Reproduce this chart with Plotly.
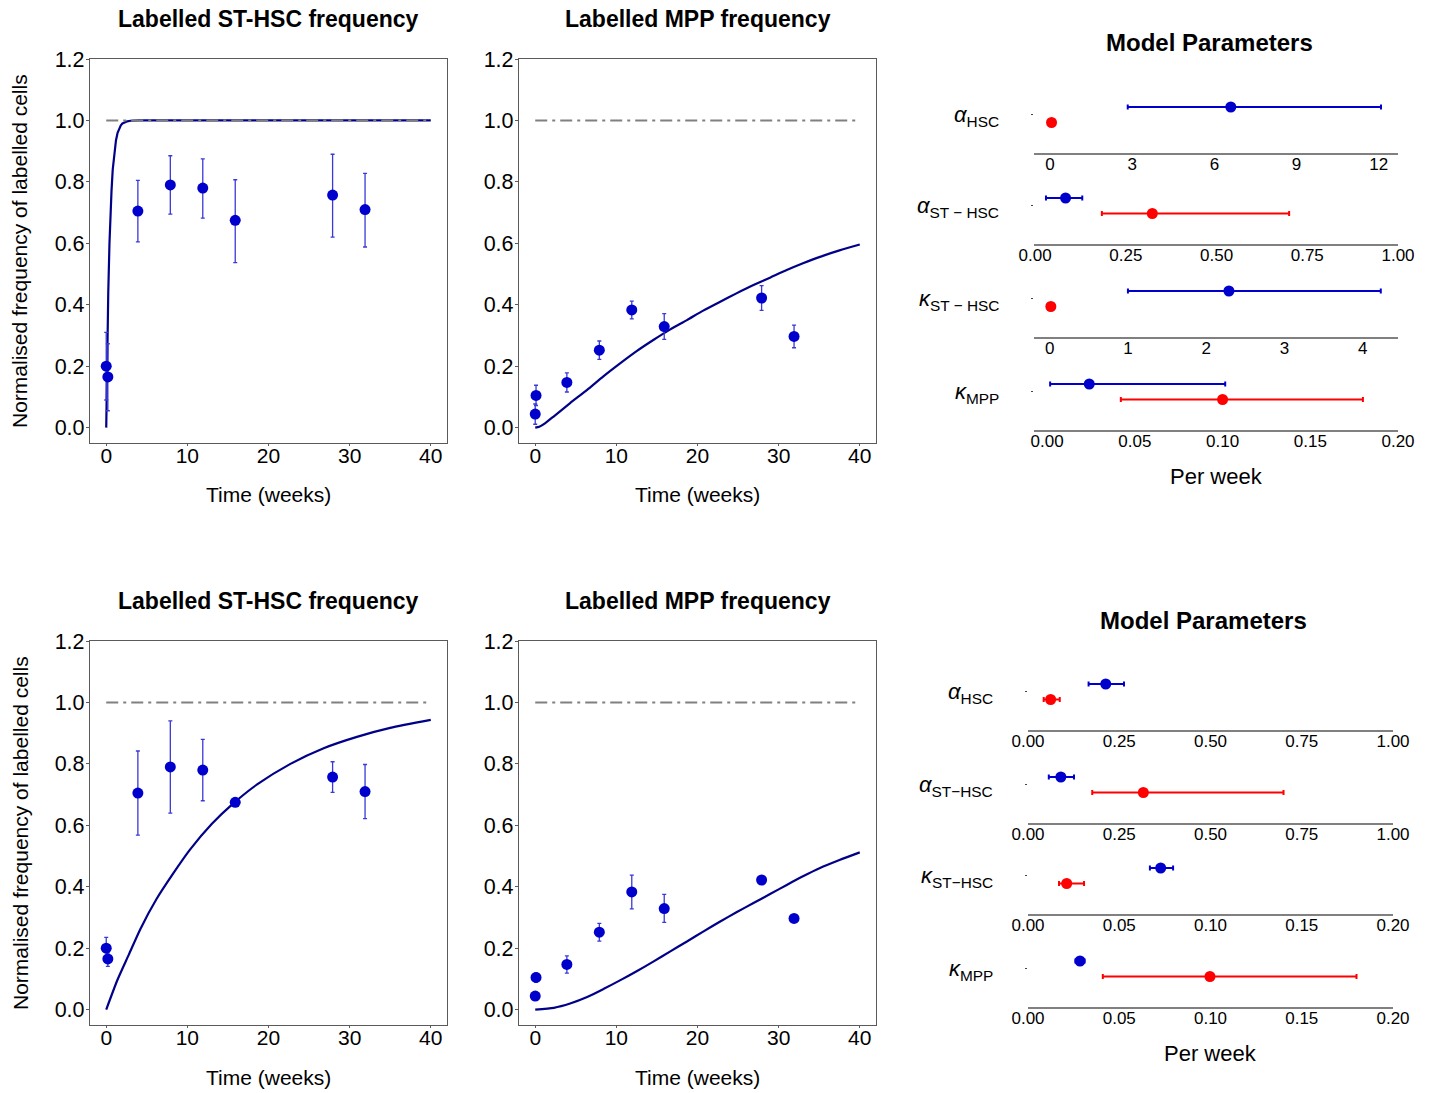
import plotly.graph_objects as go

W, H = 1432, 1093
FONT = "Liberation Sans, Arial, sans-serif"

# ---------------- data ----------------
ref_t = [0, 40]
ref_v = [1.0, 1.0]

st_t = [0, 0.2, 3.9, 7.9, 11.9, 15.9, 27.9, 31.9]
st_v = [0.2, 0.165, 0.705, 0.79, 0.78, 0.675, 0.757, 0.71]
st_err_top_plus = [0.11, 0.108, 0.10, 0.095, 0.095, 0.132, 0.133, 0.118]
st_err_top_minus = [0.11, 0.11, 0.10, 0.095, 0.098, 0.138, 0.137, 0.122]
st_err_bot_plus = [0.035, 0.02, 0.137, 0.15, 0.1, 0.0, 0.05, 0.088]
st_err_bot_minus = [0.03, 0.024, 0.137, 0.15, 0.1, 0.0, 0.05, 0.088]

mpp_t = [0.1, 0, 3.9, 7.9, 11.9, 15.9, 27.9, 31.9]
mpp_v = [0.105, 0.044, 0.147, 0.252, 0.383, 0.329, 0.422, 0.297]
mpp_err_top_plus = [0.033, 0.033, 0.031, 0.03, 0.029, 0.042, 0.04, 0.037]
mpp_err_top_minus = [0.033, 0.033, 0.031, 0.03, 0.029, 0.042, 0.04, 0.037]
mpp_err_bot_plus = [0.015, 0.0, 0.028, 0.029, 0.055, 0.046, 0.0, 0.0]
mpp_err_bot_minus = [0.015, 0.0, 0.028, 0.029, 0.055, 0.045, 0.0, 0.0]

# model curves
fit_st_top_t = [0, 0.1, 0.25, 0.4, 0.5, 0.65, 0.8, 1.0, 1.2, 1.4, 1.6, 1.8, 2.0, 2.3, 2.6, 3.0, 3.5, 4.0, 10, 20, 30, 40]
fit_st_top_v = [0, 0.2, 0.44, 0.6, 0.68, 0.77, 0.84, 0.9, 0.935, 0.96, 0.975, 0.984, 0.99, 0.994, 0.997, 0.999, 1.0, 1.0, 1.0, 1.0, 1.0, 1.0]
fit_mpp_top_t = [0, 0.5, 1.2, 2.3, 4.3, 6.4, 8.4, 10.5, 12.5, 14.6, 16.6, 18.7, 20.7, 22.8, 24.8, 26.9, 29.0, 31.0, 33.0, 35.1, 37.5, 40]
fit_mpp_top_v = [0, 0.003, 0.014, 0.037, 0.08, 0.123, 0.167, 0.21, 0.249, 0.286, 0.319, 0.35, 0.381, 0.41, 0.437, 0.464, 0.489, 0.513, 0.535, 0.556, 0.577, 0.596]
fit_st_bot_t = [0, 1.4, 2.8, 4.2, 6.2, 8.3, 10.3, 13.0, 15.7, 18.6, 22.7, 26.8, 30.9, 35, 40]
fit_st_bot_v = [0, 0.098, 0.18, 0.262, 0.36, 0.445, 0.52, 0.604, 0.672, 0.733, 0.8, 0.851, 0.888, 0.917, 0.943]
fit_mpp_bot_t = [0, 2.3, 4.3, 6.4, 8.4, 10.5, 12.5, 14.6, 16.6, 18.7, 20.7, 22.8, 24.8, 26.9, 29.0, 31.0, 33.0, 35.1, 37.5, 40]
fit_mpp_bot_v = [0, 0.006, 0.02, 0.041, 0.067, 0.096, 0.125, 0.157, 0.189, 0.222, 0.254, 0.287, 0.317, 0.347, 0.377, 0.406, 0.434, 0.461, 0.487, 0.512]

# model parameters
param_labels_top = ["<i>α</i><sub>HSC</sub>", "<i>α</i><sub>ST − HSC</sub>",
                    "<i>κ</i><sub>ST − HSC</sub>", "<i>κ</i><sub>MPP</sub>"]
param_labels_bot = ["<i>α</i><sub>HSC</sub>", "<i>α</i><sub>ST−HSC</sub>",
                    "<i>κ</i><sub>ST−HSC</sub>", "<i>κ</i><sub>MPP</sub>"]

top_blue = [6.6, 0.084, 2.29, 0.024]
top_blue_lo = [2.84, 0.03, 1.0, 0.0017]
top_blue_hi = [12.08, 0.13, 4.23, 0.1015]
top_red = [0.06, 0.323, 0.015, 0.1]
top_red_lo = [0.06, 0.184, 0.015, 0.042]
top_red_hi = [0.06, 0.70, 0.015, 0.18]

bot_blue = [0.213, 0.09, 0.0727, 0.0285]
bot_blue_lo = [0.166, 0.057, 0.0668, 0.026]
bot_blue_hi = [0.263, 0.126, 0.0795, 0.031]
bot_red = [0.062, 0.316, 0.0212, 0.0997]
bot_red_lo = [0.043, 0.176, 0.017, 0.041]
bot_red_hi = [0.087, 0.70, 0.0307, 0.18]

top_ranges = [[-0.58, 12.7], [-0.003, 1.0], [-0.2, 4.45], [-0.0075, 0.2]]
top_ticks = [[0, 3, 6, 9, 12], [0, 0.25, 0.5, 0.75, 1.0], [0, 1, 2, 3, 4], [0, 0.05, 0.1, 0.15, 0.2]]
top_tickfmt = ["d", ".2f", "d", ".2f"]
bot_ranges = [[0, 1.0], [0, 1.0], [0, 0.2], [0, 0.2]]
bot_ticks = [[0, 0.25, 0.5, 0.75, 1.0], [0, 0.25, 0.5, 0.75, 1.0],
             [0, 0.05, 0.1, 0.15, 0.2], [0, 0.05, 0.1, 0.15, 0.2]]

# ---------------- helpers ----------------
def fx(p):
    return p / W


def fy(p):
    return 1 - p / H


NAVY = "#000088"
BLUE = "#0000CC"
EBLUE = "#3a3ad6"
RED = "#FF0000"
PBLUE = "#0000CC"

fig = go.Figure()
layout = dict(
    width=W, height=H, margin=dict(l=0, r=0, t=0, b=0, autoexpand=False),
    paper_bgcolor="white", plot_bgcolor="white", showlegend=False,
    font=dict(family=FONT, color="black"),
)
annotations = []

left_panels = [
    (1, (90, 447), (59, 443), st_t, st_v, st_err_top_plus, st_err_top_minus, fit_st_top_t, fit_st_top_v, "linear", "Labelled ST-HSC frequency"),
    (2, (519, 876), (59, 443), mpp_t, mpp_v, mpp_err_top_plus, mpp_err_top_minus, fit_mpp_top_t, fit_mpp_top_v, "spline", "Labelled MPP frequency"),
    (3, (90, 447), (641, 1025), st_t, st_v, st_err_bot_plus, st_err_bot_minus, fit_st_bot_t, fit_st_bot_v, "spline", "Labelled ST-HSC frequency"),
    (4, (519, 876), (641, 1025), mpp_t, mpp_v, mpp_err_bot_plus, mpp_err_bot_minus, fit_mpp_bot_t, fit_mpp_bot_v, "spline", "Labelled MPP frequency"),
]

for idx, (x0, x1), (y0, y1), dt, dv, ep, em, ft, fv, shape, title in left_panels:
    xa = "x" if idx == 1 else f"x{idx}"
    ya = "y" if idx == 1 else f"y{idx}"
    fig.add_trace(go.Scatter(x=ft, y=fv, mode="lines", xaxis=xa, yaxis=ya,
                             line=dict(color=NAVY, width=2.2, shape=shape, smoothing=0.6)))
    fig.add_trace(go.Scatter(x=ref_t, y=ref_v, mode="lines", xaxis=xa, yaxis=ya,
                             line=dict(color="#808080", width=2, dash="12px,5px,3px,5px")))
    fig.add_trace(go.Scatter(x=dt, y=dv, mode="markers", xaxis=xa, yaxis=ya,
                             marker=dict(color=BLUE, size=11),
                             error_y=dict(type="data", symmetric=False, array=ep, arrayminus=em,
                                          color=EBLUE, thickness=1.3, width=2)))
    xkey = "xaxis" if idx == 1 else f"xaxis{idx}"
    ykey = "yaxis" if idx == 1 else f"yaxis{idx}"
    layout[xkey] = dict(domain=[fx(x0), fx(x1)], anchor=ya, range=[-2, 42], automargin=False,
                        tickvals=[0, 10, 20, 30, 40], showline=True, mirror=True,
                        linecolor="#5a5a5a", linewidth=1.3, ticks="outside", ticklen=2,
                        tickcolor="#5a5a5a", showgrid=False, zeroline=False,
                        ticklabelstandoff=-8,
                        tickfont=dict(size=21, family=FONT))
    layout[ykey] = dict(domain=[fy(y1), fy(y0)], anchor=xa, range=[-0.05, 1.2], automargin=False,
                        tickvals=[0, 0.2, 0.4, 0.6, 0.8, 1.0, 1.2], tickformat=".1f",
                        showline=True, mirror=True, linecolor="#5a5a5a", linewidth=1.3,
                        ticks="outside", ticklen=3, tickcolor="#5a5a5a",
                        ticklabelstandoff=-3,
                        showgrid=False, zeroline=False, tickfont=dict(size=21.5, family=FONT))
    cx = (x0 + x1) / 2
    annotations.append(dict(text=f"<b>{title}</b>", x=fx(cx), y=fy(y0 - 40), xref="paper", yref="paper",
                            showarrow=False, font=dict(size=23, family=FONT), xanchor="center", yanchor="middle"))
    annotations.append(dict(text="Time (weeks)", x=fx(cx), y=fy(y1 + 52), xref="paper", yref="paper",
                            showarrow=False, font=dict(size=21, family=FONT), xanchor="center", yanchor="middle"))
    if idx in (1, 3):
        annotations.append(dict(text="Normalised frequency of labelled cells", x=fx(20), y=fy((y0 + y1) / 2),
                                xref="paper", yref="paper", showarrow=False, textangle=-90,
                                font=dict(size=21, family=FONT), xanchor="center", yanchor="middle"))

# ---------------- parameter panels ----------------
right_blocks = [
    ((1034, 1398), [153, 244, 337, 430], param_labels_top, top_blue, top_blue_lo, top_blue_hi,
     top_red, top_red_lo, top_red_hi, top_ranges, top_ticks, top_tickfmt, 1001, 43, 476),
    ((1028, 1393), [730, 823, 914, 1007], param_labels_bot, bot_blue, bot_blue_lo, bot_blue_hi,
     bot_red, bot_red_lo, bot_red_hi, bot_ranges, bot_ticks, [".2f"] * 4, 995, 620, 1053),
]

ax = 5
for (x0, x1), axis_ys, labels, bv, blo, bhi, rv, rlo, rhi, ranges, ticks, fmts, lab_r, ty, pwy in right_blocks:
    for i in range(4):
        xa, ya = f"x{ax}", f"y{ax}"
        fig.add_trace(go.Scatter(x=[bv[i]], y=[1], mode="markers", xaxis=xa, yaxis=ya,
                                 marker=dict(color=PBLUE, size=11),
                                 error_x=dict(type="data", symmetric=False, array=[bhi[i] - bv[i]],
                                              arrayminus=[bv[i] - blo[i]], color=PBLUE,
                                              thickness=2, width=2.5)))
        fig.add_trace(go.Scatter(x=[rv[i]], y=[0], mode="markers", xaxis=xa, yaxis=ya,
                                 marker=dict(color=RED, size=11),
                                 error_x=dict(type="data", symmetric=False, array=[rhi[i] - rv[i]],
                                              arrayminus=[rv[i] - rlo[i]], color=RED,
                                              thickness=2, width=2.5)))
        ay = axis_ys[i]
        layout[f"xaxis{ax}"] = dict(domain=[fx(x0), fx(x1)], anchor=ya, range=ranges[i], automargin=False,
                                    tickvals=ticks[i], tickformat=fmts[i], showline=True,
                                    linecolor="#808080", linewidth=2, ticks="", showgrid=False,
                                    ticklabelstandoff=-5,
                                    zeroline=False, tickfont=dict(size=17, family=FONT))
        layout[f"yaxis{ax}"] = dict(domain=[fy(ay), fy(ay - 70)], anchor=xa, range=[-1.97, 2.55],
                                    automargin=False,
                                    tickvals=[0.5], showticklabels=False, ticks="outside", ticklen=2,
                                    tickcolor="#444", showline=False, showgrid=False, zeroline=False)
        annotations.append(dict(text=labels[i], x=fx(lab_r), y=fy(ay - 37), xref="paper", yref="paper",
                                showarrow=False, font=dict(size=22, family=FONT),
                                xanchor="right", yanchor="middle"))
        ax += 1
    cx = (x0 + x1) / 2
    annotations.append(dict(text="<b>Model Parameters</b>", x=fx(cx - 7), y=fy(ty), xref="paper", yref="paper",
                            showarrow=False, font=dict(size=24, family=FONT), xanchor="center", yanchor="middle"))
    annotations.append(dict(text="Per week", x=fx(cx), y=fy(pwy), xref="paper", yref="paper",
                            showarrow=False, font=dict(size=22, family=FONT), xanchor="center", yanchor="middle"))

layout["annotations"] = annotations
fig.update_layout(**layout)
fig.write_html("out.html")
